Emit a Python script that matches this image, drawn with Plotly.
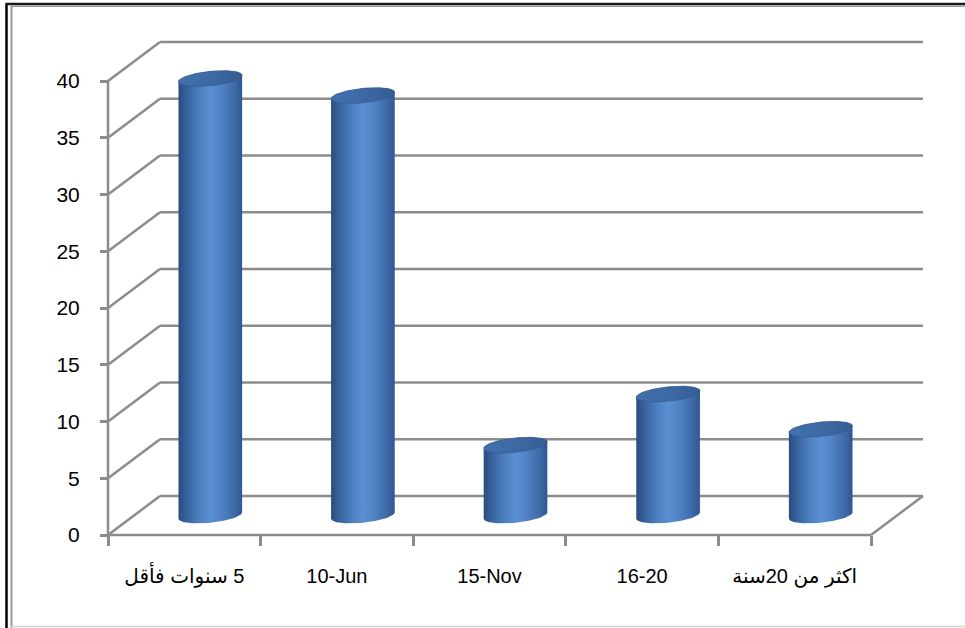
import numpy as np
import plotly.graph_objects as go

# ---- data -------------------------------------------------------------
categories = ["\u200f5 سنوات فأقل", "10-Jun", "15-Nov", "16-20", "اكثر من 20سنة"]
values = [38.5, 37.0, 6.2, 10.7, 7.6]
y_ticks = [0, 5, 10, 15, 20, 25, 30, 35, 40]

# ---- geometry of the pseudo-3D box (pixels) ---------------------------
W, H = 965, 628
FRONT_LEFT, FLOOR_Y, TOP_Y = 108, 535, 81      # front plane: x of axis, y of 0 and of 40
SLOT_PX = 152.6                                 # width of one category slot
DEPTH_PX = (52, 39)                             # offset of the back wall
PAD = 5                                         # room so edge lines are not clipped

ppy = (FLOOR_Y - TOP_Y) / 40.0
dxu = DEPTH_PX[0] / SLOT_PX
dyu = DEPTH_PX[1] / ppy
padx = PAD / SLOT_PX
pady = PAD / ppy

xr = [-0.5 - padx, 4.5 + dxu + padx]
yr = [-pady, 40 + dyu + pady]
ml = FRONT_LEFT - PAD
mr = W - (FRONT_LEFT + 5 * SLOT_PX + DEPTH_PX[0]) - PAD
mt = (FLOOR_Y - (40 + dyu) * ppy) - PAD
mb = H - FLOOR_Y - PAD
plot_w = W - ml - mr
plot_h = H - mt - mb

GRID = "#8c8c8c"
FONT = "Liberation Sans, Arial, DejaVu Sans, sans-serif"

shapes = []


def seg(x0, y0, x1, y1, color=GRID, width=2.5):
    shapes.append(dict(type="line", xref="x", yref="y", x0=x0, y0=y0, x1=x1, y1=y1,
                       line=dict(color=color, width=width), layer="below"))


# back-wall gridlines and the side-wall diagonals
for v in y_ticks:
    seg(-0.5, v, -0.5 + dxu, v + dyu)
    seg(-0.5 + dxu, v + dyu, 4.5 + dxu, v + dyu)
# floor: front edge and right edge
seg(-0.5, 0, 4.5, 0)
seg(4.5, 0, 4.5 + dxu, dyu)
# vertical value axis on the front plane
seg(-0.5, 0, -0.5, 40)


# frame around the chart (pixel positions -> paper coords)
def px(x):
    return (x - ml) / plot_w


def py(y):
    return 1 - (y - mt) / plot_h


def frame(x0, y0, x1, y1, color, width):
    shapes.append(dict(type="line", xref="paper", yref="paper",
                       x0=px(x0), y0=py(y0), x1=px(x1), y1=py(y1),
                       line=dict(color=color, width=width), layer="above"))


frame(6.5, 3, 6.5, H, "#000000", 2.5)
frame(6, 4, W, 4, "#1a1a1a", 2.5)
frame(11.5, 6, 11.5, H, "#9a9a9a", 2)
frame(11, 6.3, W, 6.3, "#9a9a9a", 1.5)
frame(11, 626.5, W, 626.5, "#d0d0d0", 1.5)

# ---- cylinders --------------------------------------------------------
RX, RY, TILT = 32.0, 7.2, np.deg2rad(6)


def ellipse(cx, cy, t):
    ex = RX * np.cos(t) * np.cos(TILT) - RY * np.sin(t) * np.sin(TILT)
    ey = RX * np.cos(t) * np.sin(TILT) + RY * np.sin(t) * np.cos(TILT)
    return cx + ex / SLOT_PX, cy + ey / ppy


body_scale = [[0.0, "#2a4c7c"], [0.12, "#36619b"], [0.35, "#4f82c3"],
              [0.5, "#5a8fd1"], [0.65, "#5285c8"], [0.88, "#3e6aa7"], [1.0, "#2f5790"]]
top_scale = [[0.0, "#4171ad"], [0.5, "#3d69a3"], [1.0, "#355d94"]]

fig = go.Figure()
for i, v in enumerate(values):
    cx = i + dxu / 2
    base = dyu / 2
    top = v + dyu / 2
    tb = np.linspace(np.pi, 2 * np.pi, 60)
    tt = np.linspace(0, np.pi, 60)
    bx, by = ellipse(cx, base, tb)
    ux, uy = ellipse(cx, top, tt)
    xs = np.concatenate([bx, ux, bx[:1]])
    ys = np.concatenate([by, uy, by[:1]])
    fig.add_trace(go.Scatter(
        x=xs, y=ys, mode="lines", fill="toself", line=dict(width=0),
        fillgradient=dict(type="horizontal", colorscale=body_scale),
        hoverinfo="skip", showlegend=False))
    ta = np.linspace(0, 2 * np.pi, 90)
    ex, ey = ellipse(cx, top, ta)
    fig.add_trace(go.Scatter(
        x=ex, y=ey, mode="lines", fill="toself", line=dict(width=0.6, color="#34598d"),
        fillgradient=dict(type="horizontal", colorscale=top_scale),
        hoverinfo="skip", showlegend=False))

fig.update_layout(
    width=W, height=H,
    margin=dict(l=ml, r=mr, t=mt, b=mb, pad=0),
    paper_bgcolor="white", plot_bgcolor="white",
    shapes=shapes,
    font=dict(family=FONT, color="#000000"),
    xaxis=dict(range=xr, anchor="free", position=pady / (yr[1] - yr[0]),
               tickmode="array", tickvals=list(range(len(categories))), ticktext=categories,
               ticks="", showgrid=False, zeroline=False, showline=False,
               tickfont=dict(size=20, family=FONT), ticklabelstandoff=27,
               minor=dict(tickmode="array", tickvals=[k - 0.5 for k in range(6)],
                          ticks="outside", ticklen=10, tickwidth=2.5, tickcolor=GRID,
                          showgrid=False),
               fixedrange=True),
    yaxis=dict(range=yr, anchor="free", position=padx / (xr[1] - xr[0]),
               tickmode="array", tickvals=y_ticks, ticks="outside", ticklen=8,
               tickwidth=2.5, tickcolor=GRID, showgrid=False, zeroline=False,
               showline=False, tickfont=dict(size=21, family=FONT),
               ticklabelstandoff=16, fixedrange=True),
)

fig.write_html("out.html")
